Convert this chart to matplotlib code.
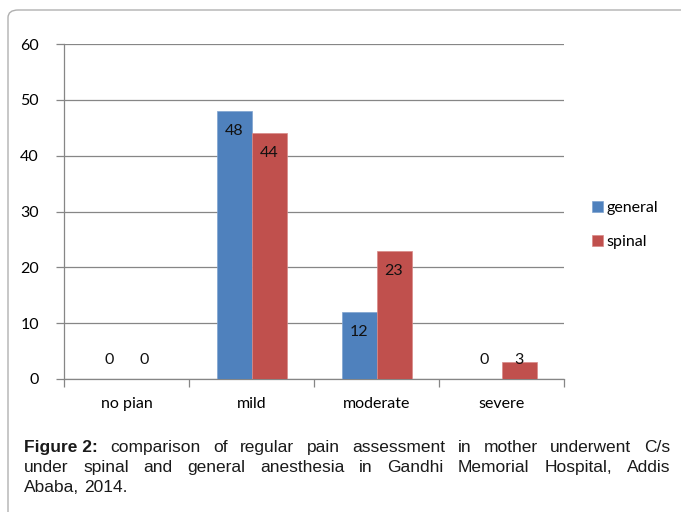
import numpy as np
import matplotlib
matplotlib.use("Agg")
import matplotlib.pyplot as plt
from matplotlib.patches import FancyBboxPatch

categories = ["no pian", "mild", "moderate", "severe"]
general = [0, 48, 12, 0]
spinal = [0, 44, 23, 3]
series_names = ["general", "spinal"]
yticks = [0, 10, 20, 30, 40, 50, 60]

caption_bold = "Figure 2:"
caption_lines = [
    "comparison of regular pain assessment in mother underwent C/s",
    "under spinal and general anesthesia in Gandhi Memorial Hospital, Addis",
    "Ababa, 2014.",
]

BLUE = "#4F81BD"
RED = "#C0504D"
GRID = "#868686"
FONT = "Lato"
FS = 11.5

fig = plt.figure(figsize=(6.81, 5.12), dpi=100)

# rounded frame around the whole figure (open to the right and bottom like the scan)
frame = FancyBboxPatch((8 / 681, -0.05), 1.2, 1.05 - 10 / 512,
                       boxstyle="round,pad=0,rounding_size=0.015",
                       transform=fig.transFigure, fill=False,
                       edgecolor="#B0B0B0", linewidth=1.0)
fig.patches.append(frame)

ax = fig.add_axes([64 / 681, 1 - 379 / 512, 500 / 681, 335 / 512])

x = np.arange(len(categories))
w = 0.28
ax.bar(x - w / 2, general, w, color=BLUE, edgecolor="#7FA3D0", linewidth=0.5,
       label=series_names[0], zorder=3)
ax.bar(x + w / 2, spinal, w, color=RED, edgecolor="#D88A88", linewidth=0.5,
       label=series_names[1], zorder=3)

# value labels (inside end, small ones sit above the baseline)
for xs, vals in ((x - w / 2, general), (x + w / 2, spinal)):
    for xi, v in zip(xs, vals):
        y = v - 3.6 if v >= 8 else 3.4
        ax.text(xi, y, str(v), ha="center", va="center", fontsize=FS,
                family=FONT, color="#111111", zorder=4)

ax.set_xlim(-0.5, len(categories) - 0.5)
ax.set_ylim(0, 60)
ax.set_yticks(yticks)
ax.set_yticklabels([str(t) for t in yticks], family=FONT, fontsize=FS)
ax.yaxis.grid(True, color=GRID, linewidth=0.9, zorder=0)
ax.set_axisbelow(True)

ax.set_xticks(x)
ax.set_xticklabels(categories, family=FONT, fontsize=FS)
ax.set_xticks(np.arange(-0.5, len(categories)), minor=True)
ax.tick_params(axis="x", which="major", length=0, pad=13)
ax.tick_params(axis="x", which="minor", length=6, color=GRID, width=0.9)
ax.tick_params(axis="y", length=6, color=GRID, width=0.9, pad=12)

for s in ("top", "right"):
    ax.spines[s].set_visible(False)
ax.spines["left"].set_color(GRID)
ax.spines["bottom"].set_color(GRID)
ax.spines["left"].set_linewidth(0.9)
ax.spines["bottom"].set_linewidth(0.9)

ax.legend(loc="center left", bbox_to_anchor=(1.028, 0.46), frameon=False,
          prop={"family": FONT, "size": FS}, handlelength=0.65,
          handleheight=0.65, handletextpad=0.25, labelspacing=1.25)

# justified caption
fig.canvas.draw()
renderer = fig.canvas.get_renderer()
left_px, right_px = 24, 670
line_y = [452, 472, 492]
cap_kw = dict(family="Liberation Sans", fontsize=12.5, color="#1a1a1a")


def word_width(txt, bold=False):
    t = fig.text(0, 0, txt, fontweight="bold" if bold else "normal", **cap_kw)
    bb = t.get_window_extent(renderer)
    t.remove()
    return bb.width


for i, line in enumerate(caption_lines):
    items = [(w_, False) for w_ in line.split(" ")]
    if i == 0:
        items = [(caption_bold, True)] + items
    widths = [word_width(t, b) for t, b in items]
    yfig = 1 - line_y[i] / 512
    if i < len(caption_lines) - 1:
        gap = (right_px - left_px - sum(widths)) / (len(items) - 1)
    else:
        gap = word_width("a b") - word_width("ab")
    xp = left_px
    for (t, b), wd in zip(items, widths):
        fig.text(xp / 681, yfig, t, fontweight="bold" if b else "normal",
                 va="baseline", ha="left", **cap_kw)
        xp += wd + gap

fig.savefig("out.png", dpi=100)
